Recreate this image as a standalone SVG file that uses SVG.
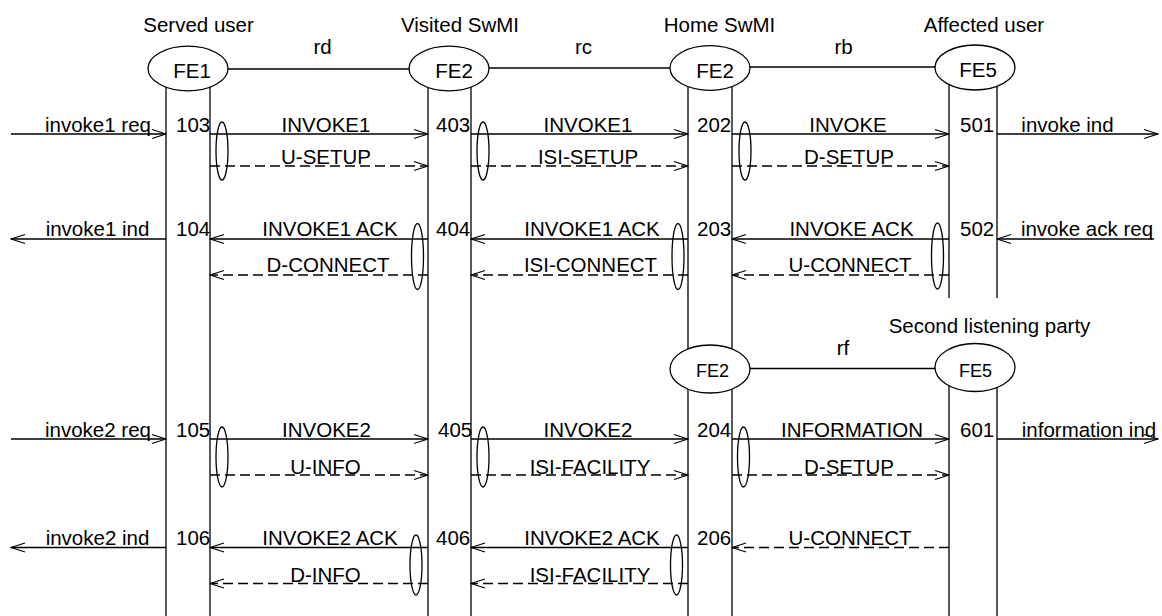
<svg xmlns="http://www.w3.org/2000/svg" width="1162" height="616" viewBox="0 0 1162 616">
<style>
text{font-family:"Liberation Sans",Arial,sans-serif;font-size:20.5px;fill:#000}
.m{text-anchor:middle}
.s{font-size:18px}
.ln{stroke:#000;stroke-width:1.3;fill:none}
.d{stroke-dasharray:10,5}
.el{fill:#fff;stroke:#000;stroke-width:1.3}
.ov{fill:none;stroke:#000;stroke-width:1.3}
.a{marker-end:url(#ah)}
</style>
<defs>
<marker id="ah" viewBox="-15 -6 16 12" markerWidth="16" markerHeight="12" refX="0" refY="0" orient="auto" markerUnits="userSpaceOnUse">
<path d="M-14,-4.5 L0,0 L-14,4.5" fill="none" stroke="#000" stroke-width="1.3" stroke-dasharray="none"/>
</marker>
</defs>

<!-- headers and interface lines -->
<g id="headers">
<text class="m" x="198.5" y="32">Served user</text>
<text class="m" x="460" y="32">Visited SwMI</text>
<text class="m" x="719.5" y="32">Home SwMI</text>
<text class="m" x="984" y="32">Affected user</text>
<text class="m" x="989.5" y="333">Second listening party</text>
<text class="m" x="322.5" y="54">rd</text>
<text class="m" x="583.5" y="54">rc</text>
<text class="m" x="843.5" y="54">rb</text>
<text class="m" x="843" y="355">rf</text>
</g>

<g id="connectors">
<!-- interface lines -->
<line class="ln" x1="228" y1="69" x2="409" y2="69"/>
<line class="ln" x1="489" y1="68" x2="670" y2="68"/>
<line class="ln" x1="750" y1="67" x2="935" y2="67"/>
<line class="ln" x1="750" y1="368.5" x2="935" y2="368.5"/>

<!-- external primitives -->
<line class="ln a" x1="11" y1="134" x2="166" y2="134"/>
<line class="ln a" x1="997" y1="134" x2="1158" y2="134"/>
<line class="ln a" x1="166" y1="239" x2="11" y2="239"/>
<line class="ln a" x1="1154" y1="239" x2="997" y2="239"/>
<line class="ln a" x1="11" y1="439" x2="166" y2="439"/>
<line class="ln a" x1="997" y1="439" x2="1158" y2="439"/>
<line class="ln a" x1="166" y1="547.5" x2="11" y2="547.5"/>

<!-- row 1 -->
<line class="ln a" x1="210" y1="134" x2="428" y2="134"/>
<line class="ln d a" x1="210" y1="166" x2="428" y2="166"/>
<line class="ln a" x1="471" y1="134" x2="688" y2="134"/>
<line class="ln d a" x1="471" y1="166" x2="688" y2="166"/>
<line class="ln a" x1="732" y1="134" x2="949" y2="134"/>
<line class="ln d a" x1="732" y1="166" x2="949" y2="166"/>
<!-- row 2 -->
<line class="ln a" x1="428" y1="239" x2="210" y2="239"/>
<line class="ln d a" x1="428" y1="275" x2="210" y2="275"/>
<line class="ln a" x1="688" y1="239" x2="471" y2="239"/>
<line class="ln d a" x1="688" y1="275" x2="471" y2="275"/>
<line class="ln a" x1="949" y1="239" x2="732" y2="239"/>
<line class="ln d a" x1="949" y1="275" x2="732" y2="275"/>
<!-- row 3 -->
<line class="ln a" x1="210" y1="439" x2="428" y2="439"/>
<line class="ln d a" x1="210" y1="475" x2="428" y2="475"/>
<line class="ln a" x1="471" y1="439" x2="688" y2="439"/>
<line class="ln d a" x1="471" y1="475" x2="688" y2="475"/>
<line class="ln a" x1="732" y1="439" x2="949" y2="439"/>
<line class="ln d a" x1="732" y1="475" x2="949" y2="475"/>
<!-- row 4 -->
<line class="ln a" x1="428" y1="547.5" x2="210" y2="547.5"/>
<line class="ln d a" x1="428" y1="583.5" x2="210" y2="583.5"/>
<line class="ln a" x1="688" y1="547.5" x2="471" y2="547.5"/>
<line class="ln d a" x1="688" y1="583.5" x2="471" y2="583.5"/>
<line class="ln d a" x1="949" y1="547.5" x2="732" y2="547.5"/>

<!-- grouping ovals -->
<ellipse class="ov" cx="222" cy="151" rx="6" ry="29"/>
<ellipse class="ov" cx="483" cy="151" rx="6" ry="29"/>
<ellipse class="ov" cx="745" cy="151" rx="6" ry="29"/>
<ellipse class="ov" cx="417.5" cy="256.5" rx="6" ry="33"/>
<ellipse class="ov" cx="678" cy="256.5" rx="6" ry="33"/>
<ellipse class="ov" cx="937.5" cy="256" rx="6" ry="33"/>
<ellipse class="ov" cx="222" cy="457" rx="6" ry="30"/>
<ellipse class="ov" cx="483" cy="457" rx="6" ry="30"/>
<ellipse class="ov" cx="743.5" cy="457" rx="6" ry="30"/>
<ellipse class="ov" cx="416" cy="565" rx="6" ry="30"/>
<ellipse class="ov" cx="676.5" cy="565" rx="6" ry="30"/>

<!-- labels -->
<text class="m" x="98" y="131.5">invoke1 req</text>
<text class="m" x="1067.5" y="131.5">invoke ind</text>
<text class="m" x="97.5" y="236">invoke1 ind</text>
<text class="m" x="1087" y="236">invoke ack req</text>
<text class="m" x="98" y="437">invoke2 req</text>
<text class="m" x="1089" y="437">information ind</text>
<text class="m" x="97.5" y="545">invoke2 ind</text>

<text class="m" x="326" y="131.5">INVOKE1</text>
<text class="m" x="326" y="164">U-SETUP</text>
<text class="m" x="588" y="131.5">INVOKE1</text>
<text class="m" x="588" y="164">ISI-SETUP</text>
<text class="m" x="848" y="131.5">INVOKE</text>
<text class="m" x="849" y="164">D-SETUP</text>

<text class="m" x="330" y="236">INVOKE1 ACK</text>
<text class="m" x="328" y="272">D-CONNECT</text>
<text class="m" x="592" y="236">INVOKE1 ACK</text>
<text class="m" x="590.5" y="272">ISI-CONNECT</text>
<text class="m" x="851.5" y="236">INVOKE ACK</text>
<text class="m" x="850" y="272">U-CONNECT</text>

<text class="m" x="326.5" y="437">INVOKE2</text>
<text class="m" x="325.5" y="473.5">U-INFO</text>
<text class="m" x="588" y="437">INVOKE2</text>
<text class="m" x="590" y="473.5">ISI-FACILITY</text>
<text class="m" x="852" y="437">INFORMATION</text>
<text class="m" x="849" y="473.5">D-SETUP</text>

<text class="m" x="330" y="545">INVOKE2 ACK</text>
<text class="m" x="325.5" y="581.5">D-INFO</text>
<text class="m" x="592" y="545">INVOKE2 ACK</text>
<text class="m" x="590" y="581.5">ISI-FACILITY</text>
<text class="m" x="850" y="545">U-CONNECT</text>
</g>

<g id="fe1_served">
<line class="ln" x1="166" y1="69" x2="166" y2="616"/>
<line class="ln" x1="210" y1="69" x2="210" y2="616"/>
<ellipse class="el" cx="188" cy="68.5" rx="40" ry="22.3"/>
<text class="m" x="192" y="77.5">FE1</text>
<text x="176" y="131.5">103</text>
<text x="176" y="236">104</text>
<text x="176" y="437">105</text>
<text x="176" y="545">106</text>
</g>

<g id="fe2_visited">
<line class="ln" x1="428" y1="69" x2="428" y2="616"/>
<line class="ln" x1="471" y1="69" x2="471" y2="616"/>
<ellipse class="el" cx="449" cy="68.5" rx="40" ry="22.3"/>
<text class="m" x="454" y="78">FE2</text>
<text x="436" y="131.5">403</text>
<text x="436" y="236">404</text>
<text x="438" y="437">405</text>
<text x="436" y="545">406</text>
</g>

<g id="fe2_home">
<line class="ln" x1="688" y1="69" x2="688" y2="616"/>
<line class="ln" x1="732" y1="69" x2="732" y2="616"/>
<ellipse class="el" cx="710" cy="68" rx="40" ry="22.3"/>
<text class="m" x="715" y="78">FE2</text>
<text x="697" y="131.5">202</text>
<text x="697" y="236">203</text>
<text x="697" y="437">204</text>
<text x="697" y="545">206</text>
</g>

<g id="fe5_affected">
<line class="ln" x1="949" y1="68" x2="949" y2="298"/>
<line class="ln" x1="997" y1="68" x2="997" y2="298"/>
<ellipse class="el" cx="975" cy="67.5" rx="40" ry="22.5"/>
<text class="m" x="978" y="77">FE5</text>
<text x="960" y="131.5">501</text>
<text x="960" y="236">502</text>
</g>

<g id="fe2_home_lower">
<ellipse class="el" cx="710" cy="369" rx="40" ry="24"/>
<text class="m s" x="712.5" y="376.5">FE2</text>
</g>

<g id="fe5_second">
<line class="ln" x1="949" y1="368" x2="949" y2="616"/>
<line class="ln" x1="997" y1="368" x2="997" y2="616"/>
<ellipse class="el" cx="975" cy="367.5" rx="40" ry="24"/>
<text class="m s" x="975.5" y="376.5">FE5</text>
<text x="960" y="437">601</text>
</g>
</svg>
